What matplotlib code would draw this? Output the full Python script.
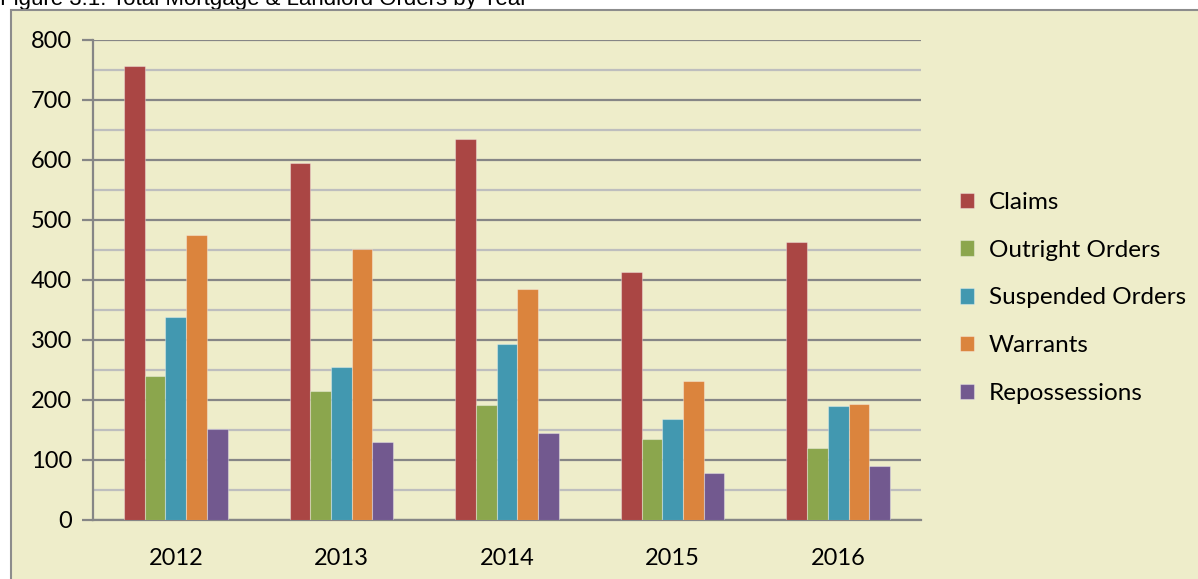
import matplotlib
matplotlib.use("Agg")
import matplotlib.pyplot as plt
import numpy as np
from matplotlib.patches import Rectangle
from matplotlib.ticker import MultipleLocator

plt.rcParams["font.family"] = ["Lato", "DejaVu Sans"]

years = ["2012", "2013", "2014", "2015", "2016"]
series = ["Claims", "Outright Orders", "Suspended Orders", "Warrants", "Repossessions"]
claims = [757, 595, 635, 413, 463]
outright = [240, 215, 192, 135, 120]
suspended = [338, 255, 293, 168, 190]
warrants = [475, 452, 385, 232, 193]
repossessions = [152, 130, 145, 78, 90]
colors = ["#AA4644", "#8BA64D", "#4298B0", "#DB843D", "#72598F"]

values = [claims, outright, suspended, warrants, repossessions]

W, H = 1198, 579
fig = plt.figure(figsize=(W / 100, H / 100), dpi=100)
fig.patch.set_facecolor("white")

# chart frame (shaded panel with grey border)
frame = Rectangle((11 / W, -0.05), 1.2, 1 - 10 / H + 0.05, transform=fig.transFigure,
                  facecolor="#EEEDCA", edgecolor="#8C8C8C", linewidth=1.5, zorder=-2)
fig.patches.append(frame)

fig.text(0.0, 1 - 5 / H, "Figure 3.1: Total Mortgage & Landlord Orders by Year",
         family="Liberation Sans", fontsize=16, va="baseline", ha="left", zorder=-3)

ax = fig.add_axes([93 / W, 1 - 520 / H, (921 - 93) / W, 480 / H])
ax.set_facecolor("none")

x = np.arange(len(years))
bw = 0.125
for i, (name, vals, c) in enumerate(zip(series, values, colors)):
    ax.bar(x + (i - 2) * bw, vals, bw, color=c, label=name,
           edgecolor=(1, 1, 1, 0.35), linewidth=0.8, zorder=3)

ax.set_xlim(-0.5, len(years) - 0.5)
ax.set_ylim(0, 800)
ax.yaxis.set_major_locator(MultipleLocator(100))
ax.yaxis.set_minor_locator(MultipleLocator(50))
ax.grid(axis="y", which="major", color="#868686", linewidth=1.6, zorder=1)
ax.grid(axis="y", which="minor", color="#BEBEBE", linewidth=1.6, zorder=1)
ax.set_axisbelow(True)

for s in ["top", "right"]:
    ax.spines[s].set_visible(False)
ax.spines["left"].set_color("#868686")
ax.spines["left"].set_linewidth(1.6)
ax.spines["bottom"].set_color("#868686")
ax.spines["bottom"].set_linewidth(1.6)

ax.set_xticks(x)
ax.set_xticklabels(years)
ax.tick_params(axis="x", length=0, pad=20, labelsize=17)
ax.tick_params(axis="y", which="major", length=8, width=1.6, color="#868686",
               labelsize=17, pad=7)
ax.tick_params(axis="y", which="minor", length=0)

fig.legend(loc="center left", bbox_to_anchor=(938 / W, 1 - 298 / H), frameon=False,
           fontsize=17.5, handlelength=0.6, handleheight=0.6, labelspacing=1.1,
           handletextpad=0.6)

fig.savefig("out.png", dpi=100, facecolor=fig.get_facecolor())
